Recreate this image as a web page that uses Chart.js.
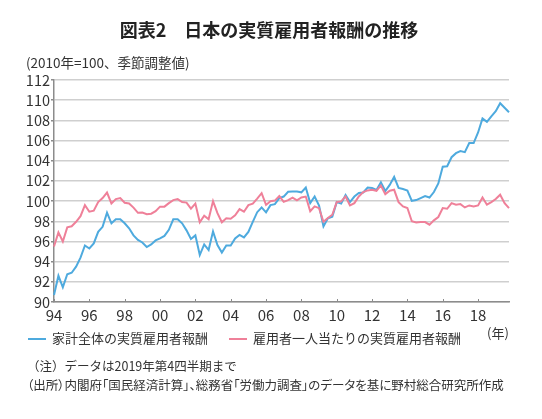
<!DOCTYPE html>
<html><head><meta charset="utf-8">
<script src="https://cdn.jsdelivr.net/npm/chart.js@4.4.0/dist/chart.umd.min.js"></script>
<style>
html,body{margin:0;padding:0;background:#fff;}
body{width:542px;height:419px;position:relative;overflow:hidden;font-family:"Noto Sans CJK JP","Noto Sans",sans-serif;color:#333;}
#wrap{position:absolute;left:0;top:0;width:542px;height:419px;}
.t{position:absolute;white-space:nowrap;}
#title{left:0;width:538px;text-align:center;top:17px;font-size:18px;font-weight:bold;color:#222;line-height:24px;}
#sub{left:26px;top:53px;font-size:13.5px;line-height:18px;}
#unit{left:487px;top:324px;font-size:13px;line-height:18px;}
.lg{top:329px;font-size:13px;line-height:18px;}
.sw{position:absolute;top:338px;height:2px;width:18px;}
.note{left:27px;font-size:12.5px;line-height:18px;}
#src{font-feature-settings:"palt";}
</style></head>
<body>
<div id="wrap"><canvas id="c" width="542" height="419"></canvas></div>
<div class="t" id="title">図表2　日本の実質雇用者報酬の推移</div>
<div class="t" id="sub">(2010年=100、季節調整値)</div>
<div class="t" id="unit">(年)</div>
<div class="sw" style="left:28px;background:#4eaade"></div>
<div class="t lg" style="left:52px">家計全体の実質雇用者報酬</div>
<div class="sw" style="left:229px;background:#ef8099"></div>
<div class="t lg" style="left:253px">雇用者一人当たりの実質雇用者報酬</div>
<div class="t note" style="top:357px">（注）データは2019年第4四半期まで</div>
<div class="t note" id="src" style="top:376px">（出所）内閣府「国民経済計算」、総務省「労働力調査」のデータを基に野村総合研究所作成</div>
<script>
const years = [1994,1995,1996,1997,1998,1999,2000,2001,2002,2003,2004,2005,2006,2007,2008,2009,2010,2011,2012,2013,2014,2015,2016,2017,2018,2019];
const quarters = ['Q1','Q2','Q3','Q4'];
const categories = [];
years.forEach(y => quarters.forEach(q => categories.push(y + q)));
const xTickLabels = ['94','96','98','00','02','04','06','08','10','12','14','16','18'];
const yTicks = [90,92,94,96,98,100,102,104,106,108,110,112];

const householdTotal = [
90.7,92.6,91.45,92.75, 92.9,93.5,94.4,95.6, 95.3,95.8,96.95,97.45, 98.85,97.8,98.2,98.2,
97.8,97.3,96.6,96.15, 95.9,95.45,95.7,96.1, 96.3,96.55,97.15,98.2, 98.2,97.8,97.1,96.25,
96.6,94.65,95.7,95.15, 97.0,95.65,94.9,95.6, 95.6,96.3,96.65,96.4, 96.95,97.95,98.9,99.37,
98.88,99.6,99.7,100.3, 100.45,100.93,100.95,100.95, 100.87,101.35,99.8,100.45, 99.55,97.5,98.3,98.45,
99.9,99.75,100.6,99.9, 100.45,100.8,100.85,101.35, 101.3,101.1,101.85,101.0, 101.6,102.4,101.3,101.2,
101.05,100.03,100.1,100.3, 100.5,100.35,100.9,101.75, 103.4,103.45,104.35,104.75, 104.95,104.85,105.75,105.75,
106.8,108.2,107.85,108.4, 108.9,109.7,109.25,108.8];

const perEmployee = [
95.5,96.9,96.0,97.4, 97.5,97.95,98.5,99.6, 98.95,99.05,99.9,100.3, 100.85,99.77,100.2,100.3,
99.83,99.77,99.35,98.84, 98.87,98.7,98.75,99.0, 99.45,99.45,99.8,100.1, 100.2,99.9,99.85,99.25,
99.75,97.9,98.55,98.2, 100.0,98.8,97.9,98.3, 98.25,98.6,99.2,98.95, 99.6,99.75,100.25,100.78,
99.62,99.98,100.05,100.5, 99.92,100.1,100.35,100.07, 100.36,100.45,99.0,99.48, 99.3,97.95,98.32,98.65,
99.9,99.97,100.46,99.57, 99.8,100.46,100.89,101.06, 101.12,101.02,101.55,100.69, 101.02,101.12,99.9,99.47,
99.31,98.0,97.89,97.92, 97.92,97.66,98.09,98.42, 99.31,99.24,99.8,99.64, 99.7,99.37,99.57,99.47,
99.57,100.36,99.64,99.9, 100.2,100.63,99.8,99.31];

const axisColor = '#8c8c8c';
const innerTicks = {
  id:'innerTicks',
  afterDatasetsDraw(chart){
    const x = chart.scales.x, ctx = chart.ctx, bottom = chart.chartArea.bottom;
    ctx.save();
    ctx.strokeStyle = axisColor; ctx.lineWidth = 1;
    for (let i = 0; i < categories.length; i += 8) {
      const px = Math.round(x.getPixelForValue(i)) + 0.5;
      ctx.beginPath(); ctx.moveTo(px, bottom - 3); ctx.lineTo(px, bottom); ctx.stroke();
    }
    ctx.restore();
  }
};

new Chart(document.getElementById('c'), {
  type:'line',
  data:{
    labels: categories,
    datasets:[
      {label:'雇用者一人当たりの実質雇用者報酬', data: perEmployee, borderColor:'#ef8099', borderWidth:2, pointRadius:0, tension:0, fill:false},
      {label:'家計全体の実質雇用者報酬', data: householdTotal, borderColor:'#4eaade', borderWidth:2, pointRadius:0, tension:0, fill:false}
    ]
  },
  options:{
    responsive:false, animation:false, devicePixelRatio:1,
    layout:{padding:{left:0, top:80, right:33, bottom:87}},
    plugins:{legend:{display:false}, title:{display:false}, tooltip:{enabled:false}},
    scales:{
      x:{
        type:'category', offset:false,
        grid:{display:true, drawOnChartArea:false, drawTicks:false},
        border:{display:true, color:axisColor, width:1.5},
        ticks:{autoSkip:false, maxRotation:0, padding:4, color:'#333', font:{family:'"Noto Sans CJK JP", sans-serif', size:15},
          callback:(v,i)=> (i % 8 === 0 ? xTickLabels[i/8] : null)},
        afterFit:(s)=>{ s.height = 30; }
      },
      y:{
        min: yTicks[0], max: yTicks[yTicks.length-1],
        afterBuildTicks:(s)=>{ s.ticks = yTicks.map(v=>({value:v})); },
        grid:{color:'#cfcfcf', lineWidth:1.5, tickLength:3, tickColor:axisColor},
        border:{display:true, color:axisColor, width:1.5},
        ticks:{autoSkip:false, padding:1, color:'#333', font:{family:'"Noto Sans CJK JP", sans-serif', size:14.5}},
        afterFit:(s)=>{ s.width = 54; }
      }
    }
  },
  plugins:[innerTicks]
});
</script>
</body></html>
